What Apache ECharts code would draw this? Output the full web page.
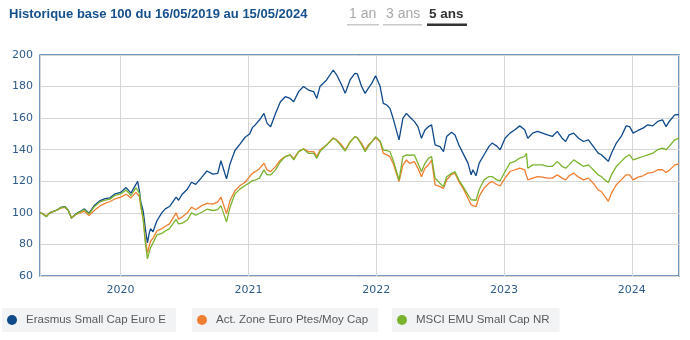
<!DOCTYPE html>
<html>
<head>
<meta charset="utf-8">
<script src="https://cdn.jsdelivr.net/npm/echarts@6/dist/echarts.min.js"></script>
<style>
html,body{margin:0;padding:0;background:#fff;}
#chart{width:690px;height:340px;}
</style>
</head>
<body>
<div id="chart"></div>
<script>
const titleText = 'Historique base 100 du 16/05/2019 au 15/05/2024';
const periodButtons = ['1 an', '3 ans', '5 ans'];
const seriesNames = ['Erasmus Small Cap Euro E', 'Act. Zone Euro Ptes/Moy Cap', 'MSCI EMU Small Cap NR'];
const seriesColors = ['#0f4a8a', '#f07f32', '#7ab32e'];
const yTicks = [60, 80, 100, 120, 140, 160, 180, 200];

const dates = [
'2019-05-16','2019-05-24','2019-06-03','2019-06-10','2019-06-17','2019-07-01','2019-07-15','2019-07-26','2019-08-05','2019-08-14',
'2019-08-27','2019-09-12','2019-09-20','2019-10-03','2019-10-18','2019-11-04','2019-11-18','2019-12-02','2019-12-16','2020-01-02',
'2020-01-17','2020-01-31','2020-02-14','2020-02-19','2020-02-24','2020-02-28','2020-03-06','2020-03-12','2020-03-18','2020-03-23',
'2020-03-27','2020-04-03','2020-04-14','2020-04-28','2020-05-08','2020-05-20','2020-06-08','2020-06-15','2020-06-26','2020-07-10',
'2020-07-22','2020-08-03','2020-08-20','2020-09-04','2020-09-21','2020-10-05','2020-10-14','2020-10-30','2020-11-09','2020-11-23',
'2020-12-08','2020-12-22','2021-01-04','2021-01-12','2021-01-20','2021-02-01','2021-02-14','2021-02-23','2021-03-05','2021-03-19',
'2021-04-02','2021-04-16','2021-04-30','2021-05-10','2021-05-24','2021-06-07','2021-06-21','2021-07-06','2021-07-15','2021-07-24',
'2021-08-12','2021-08-31','2021-09-10','2021-09-24','2021-10-04','2021-10-18','2021-11-01','2021-11-08','2021-11-20','2021-11-30',
'2021-12-09','2021-12-19','2021-12-30','2022-01-12','2022-01-21','2022-01-31','2022-02-09','2022-02-18','2022-03-07','2022-03-18',
'2022-03-28','2022-04-06','2022-04-20','2022-04-30','2022-05-10','2022-05-20','2022-05-30','2022-06-08','2022-06-18','2022-07-02',
'2022-07-12','2022-07-21','2022-08-04','2022-08-14','2022-08-25','2022-09-06','2022-09-20','2022-09-29','2022-10-04','2022-10-13',
'2022-10-22','2022-11-05','2022-11-19','2022-11-28','2022-12-12','2022-12-21','2023-01-04','2023-01-18','2023-02-01','2023-02-15',
'2023-03-01','2023-03-06','2023-03-10','2023-03-24','2023-04-07','2023-04-21','2023-05-05','2023-05-19','2023-06-02','2023-06-16',
'2023-06-26','2023-07-06','2023-07-19','2023-08-02','2023-08-16','2023-08-30','2023-09-13','2023-09-27','2023-10-06','2023-10-16',
'2023-10-26','2023-11-04','2023-11-18','2023-12-02','2023-12-16','2023-12-26','2024-01-05','2024-01-19','2024-02-02','2024-02-16',
'2024-03-01','2024-03-15','2024-03-29','2024-04-08','2024-04-17','2024-05-03','2024-05-15'
];

const erasmus = [
100,99.5,97.7,99.5,100.5,101.5,103.5,104,101.5,96.8,
99.4,101.5,102.5,99.8,104.6,107.8,109,109.5,112,113,
116,112.5,118,120,114,107,101,90,81,87,
90,88,95,100,102.5,104,110,108,112,115,
119.4,118,122.5,126.5,124.5,125,133,121.5,131,139.5,
143.7,147.9,150,154,155.7,158.8,163,156.7,154.6,163,
170.4,173.6,172.5,170.4,176.8,180,177.8,176.8,172.5,180,
184.2,190.5,187.3,181,175.7,184.2,188.4,188,180,175.7,
178.9,182,186.9,180,169.4,168.3,166.2,159.9,146.2,159.9,
163,160.9,157.8,154.6,147.2,152.5,154.6,155.7,143,141.9,
138.8,148.3,151,149.3,143,137.7,131.5,124.1,127.3,123.5,
131.5,136.8,142.1,144.2,142.1,139.9,147.3,150.5,152.6,155.1,
152.6,152,147.3,150.5,151.6,150.5,149.4,148.4,151.6,147.3,
145.2,149.4,150.5,147.3,145.2,146.3,142.1,137.8,136.8,134.7,
132.6,137.8,144.2,148.4,155.1,154.6,150.5,152.2,153.7,155.8,
155.1,157.9,158.9,154.6,157.9,162.1,162.3
];

const actZone = [
100,99.5,98,99.5,100.3,101.5,103,103.5,101.5,97,
99,100.5,101,98.3,101.5,104.5,106,107.2,108.8,110,
111.8,109.5,113,114,110.5,104,96,83,74.5,79,
82,84,88.5,90,91.5,93,100,96,97.5,100,
103.6,102,104.6,106,105.5,107,110,99.5,107.8,114,
117.3,119.4,123,125,126.1,128,131.4,127.2,126.1,129.3,
133.5,135.6,136.7,134.5,138.8,140.5,138.8,138.8,135.6,139.8,
143,147.6,146.2,143,139.8,145,148.3,147.5,144,139.8,
143,145,147.6,145,137.7,136.7,135.6,131.4,119.8,130.3,
133.5,131.4,132.4,128.2,122.9,128.2,130.3,133.5,117.7,116.6,
115.5,120.8,124.4,125,119.8,115.5,109.3,105.1,106.2,103.9,
110.4,115.7,118.8,119.9,117.8,117.1,122,126.2,127.3,128.3,
127.3,128.3,120.9,122,123,122.6,122,122,124.1,122,
120.9,123.5,125.2,122.6,120.9,122,118.8,114.6,113.5,110.4,
107.3,112.5,117.8,120.9,124.1,124.1,120.9,122.6,123.5,125.2,
125.6,127.3,127.3,125.6,126.9,130.4,131
];

const msci = [
100,99.3,97.5,99.3,100.3,101.5,103.3,103.8,101.5,96.5,
99.2,101.2,102,99.3,103.8,107,108,108.7,111,112,
114.5,111,115.8,117,112.5,105,96,81,70.8,75,
78,81,86,87,88.5,90,95.8,93,93.5,95.5,
100,98.5,100.4,102.3,101.5,102,104.6,94.3,103.6,112,
115.2,117.3,119,120.5,120.8,122,127.2,124,124,127.2,
132.4,135.6,136.7,133.5,138.8,140.5,137.7,137.7,134.5,138.8,
143,147.2,145.8,142,139.2,144.7,148.3,147.5,143,138.8,
142,145,148.3,145.5,139.8,139.5,138.8,133.5,120.8,135.6,
136.7,136.5,136.7,131.4,126.1,131.4,134.5,135.6,121.9,118.7,
116.6,122.9,125,126.1,120.8,116.6,111.4,108.3,109.3,108,
114.6,120.9,123,123,120.9,120.3,126.2,131.5,132.6,134.7,
135.7,137.8,128.3,130.4,130.4,130.4,129.4,129.4,132.6,129.4,
128.3,130.4,133.6,131.5,129.4,130.4,127.3,124.1,123,120.9,
119.2,124.1,129.4,132.6,135.7,136.8,133.6,134.7,135.7,136.8,
137.8,140,141,140,142.1,146.3,147.3
];

const seriesValues = [erasmus, actZone, msci];
const axisColor = '#2f5b8c';
const FONT = 'DejaVu Sans';
const YEAR = 365 * 24 * 3600 * 1000;

const chart = echarts.init(document.getElementById('chart'), null, {renderer: 'canvas'});

const legendBoxes = [
  {left: 2, width: 173},
  {left: 192, width: 181},
  {left: 392, width: 162}
];

const option = {
  animation: false,
  title: {
    text: titleText,
    left: 9, top: 8, padding: 0,
    textStyle: {fontFamily: 'Liberation Sans', fontSize: 13, fontWeight: 'bold', color: '#14508c'}
  },
  grid: {
    left: 40, right: 11, top: 55, bottom: 64,
    show: true, borderColor: '#4a78aa', borderWidth: 1.5, backgroundColor: 'transparent'
  },
  xAxis: {
    type: 'time',
    min: '2019-05-16', max: '2024-05-15',
    minInterval: YEAR, maxInterval: YEAR + 24 * 3600 * 1000,
    axisLine: {show: false},
    axisTick: {show: false},
    axisLabel: {
      color: axisColor, fontFamily: FONT, fontSize: 11, margin: 9,
      formatter: function (v) { return new Date(v).getFullYear().toString(); },
      showMinLabel: false, showMaxLabel: false
    },
    splitLine: {show: true, lineStyle: {color: '#d6d6d6', width: 1}}
  },
  yAxis: {
    type: 'value',
    min: yTicks[0], max: yTicks[yTicks.length - 1], interval: 20,
    axisLine: {show: false},
    axisTick: {show: false},
    axisLabel: {color: axisColor, fontFamily: FONT, fontSize: 11, margin: 7},
    splitLine: {show: true, lineStyle: {color: '#d6d6d6', width: 1}}
  },
  legend: seriesNames.map((n, i) => ({
    data: [n],
    left: legendBoxes[i].left, top: 308,
    orient: 'horizontal',
    backgroundColor: '#f2f3f5',
    padding: [6, 10, 6, 5],
    icon: 'circle', itemWidth: 10, itemHeight: 10, itemGap: 0,
    selectedMode: false,
    textStyle: {fontFamily: 'Liberation Sans', fontSize: 11.5, color: '#5a5a5a', padding: [0, 0, 0, 4]}
  })),
  graphic: [
    {type: 'text', left: 349, top: 7, style: {text: periodButtons[0], fontFamily: 'Liberation Sans', fontSize: 14, fill: '#a8a8a8'}},
    {type: 'rect', shape: {x: 347, y: 24, width: 32, height: 1.5}, style: {fill: '#c8c8c8'}},
    {type: 'text', left: 386, top: 7, style: {text: periodButtons[1], fontFamily: 'Liberation Sans', fontSize: 14, fill: '#a8a8a8'}},
    {type: 'rect', shape: {x: 383, y: 24, width: 39, height: 1.5}, style: {fill: '#c8c8c8'}},
    {type: 'text', left: 429, top: 7, style: {text: periodButtons[2], fontFamily: 'Liberation Sans', fontSize: 13.5, fontWeight: 'bold', fill: '#333333'}},
    {type: 'rect', shape: {x: 427, y: 23.5, width: 40, height: 2.5}, style: {fill: '#333333'}}
  ],
  series: seriesNames.map((n, i) => ({
    name: n,
    type: 'line',
    showSymbol: false,
    symbol: 'circle',
    color: seriesColors[i],
    lineStyle: {width: 1.3, color: seriesColors[i]},
    data: dates.map((d, k) => [d, seriesValues[i][k]])
  }))
};

chart.setOption(option);
</script>
</body>
</html>
